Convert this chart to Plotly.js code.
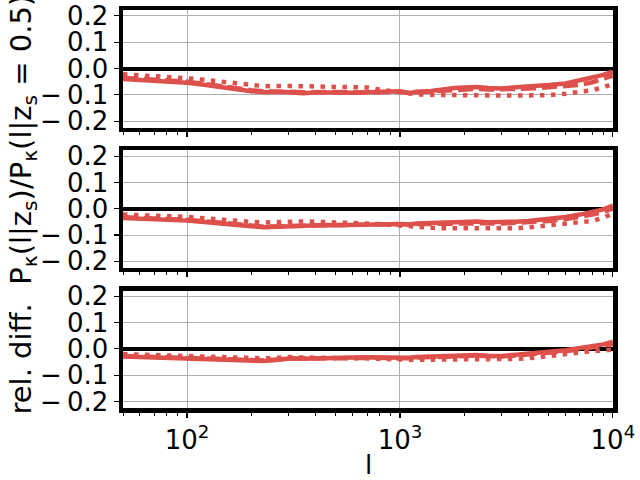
<!DOCTYPE html>
<html>
<head>
<meta charset="utf-8">
<script src="https://cdn.plot.ly/plotly-3.0.1.min.js"></script>
<style>html,body{margin:0;padding:0;background:#fff;}#chart{width:640px;height:480px;}</style>
</head>
<body>
<div id="chart"></div>
<script>
const ell = [50, 60, 70, 80, 90, 100, 120, 140, 160, 180, 200, 230, 260, 300, 350, 400, 450, 500, 600, 700, 800, 900, 1000, 1100, 1200, 1400, 1600, 1800, 2000, 2300, 2600, 3000, 3500, 4000, 4500, 5000, 6000, 7000, 8000, 9000, 10000];

const top_solid  = [-0.040,-0.043,-0.046,-0.049,-0.051,-0.054,-0.062,-0.070,-0.077,-0.082,-0.086,-0.090,-0.088,-0.090,-0.094,-0.091,-0.089,-0.091,-0.092,-0.090,-0.086,-0.088,-0.086,-0.094,-0.088,-0.085,-0.078,-0.074,-0.072,-0.070,-0.074,-0.076,-0.071,-0.069,-0.066,-0.063,-0.057,-0.045,-0.035,-0.024,-0.012];
const top_dashed = [-0.035,-0.038,-0.042,-0.045,-0.048,-0.050,-0.058,-0.066,-0.073,-0.078,-0.082,-0.087,-0.086,-0.088,-0.090,-0.089,-0.088,-0.089,-0.091,-0.089,-0.088,-0.089,-0.088,-0.092,-0.090,-0.087,-0.082,-0.080,-0.078,-0.077,-0.080,-0.080,-0.078,-0.076,-0.074,-0.072,-0.068,-0.062,-0.052,-0.040,-0.027];
const top_dotted = [-0.022,-0.025,-0.028,-0.031,-0.034,-0.037,-0.043,-0.049,-0.055,-0.059,-0.062,-0.067,-0.066,-0.068,-0.070,-0.068,-0.069,-0.070,-0.070,-0.072,-0.080,-0.085,-0.090,-0.096,-0.098,-0.100,-0.101,-0.100,-0.102,-0.103,-0.102,-0.104,-0.103,-0.102,-0.102,-0.101,-0.096,-0.090,-0.082,-0.072,-0.058];

const mid_solid  = [-0.035,-0.037,-0.039,-0.041,-0.043,-0.045,-0.050,-0.056,-0.061,-0.064,-0.066,-0.070,-0.068,-0.066,-0.067,-0.064,-0.062,-0.063,-0.061,-0.060,-0.058,-0.059,-0.058,-0.060,-0.056,-0.054,-0.052,-0.052,-0.049,-0.048,-0.051,-0.052,-0.049,-0.046,-0.042,-0.039,-0.031,-0.022,-0.012,-0.002,0.012];
const mid_dashed = [-0.032,-0.034,-0.036,-0.038,-0.040,-0.042,-0.047,-0.053,-0.058,-0.061,-0.064,-0.068,-0.067,-0.065,-0.066,-0.063,-0.062,-0.062,-0.061,-0.060,-0.059,-0.060,-0.060,-0.061,-0.059,-0.058,-0.056,-0.056,-0.054,-0.053,-0.055,-0.056,-0.054,-0.051,-0.048,-0.046,-0.039,-0.031,-0.022,-0.012,0.002];
const mid_dotted = [-0.022,-0.024,-0.025,-0.027,-0.029,-0.031,-0.036,-0.041,-0.045,-0.048,-0.050,-0.052,-0.050,-0.047,-0.048,-0.049,-0.050,-0.051,-0.053,-0.055,-0.058,-0.061,-0.064,-0.068,-0.070,-0.072,-0.074,-0.074,-0.075,-0.075,-0.076,-0.076,-0.074,-0.071,-0.067,-0.064,-0.059,-0.054,-0.046,-0.034,-0.018];

const bot_solid  = [-0.029,-0.031,-0.032,-0.034,-0.036,-0.037,-0.039,-0.040,-0.041,-0.042,-0.043,-0.046,-0.042,-0.037,-0.038,-0.036,-0.035,-0.034,-0.033,-0.032,-0.033,-0.035,-0.036,-0.034,-0.031,-0.029,-0.028,-0.026,-0.024,-0.023,-0.026,-0.027,-0.022,-0.019,-0.015,-0.011,-0.005,0.003,0.010,0.017,0.027];
const bot_dashed = [-0.027,-0.029,-0.030,-0.032,-0.034,-0.035,-0.037,-0.038,-0.039,-0.040,-0.041,-0.044,-0.041,-0.037,-0.037,-0.036,-0.035,-0.034,-0.034,-0.033,-0.034,-0.036,-0.037,-0.036,-0.033,-0.031,-0.030,-0.029,-0.027,-0.026,-0.028,-0.029,-0.025,-0.022,-0.019,-0.015,-0.009,-0.002,0.005,0.010,0.018];
const bot_dotted = [-0.020,-0.022,-0.023,-0.025,-0.027,-0.028,-0.030,-0.031,-0.032,-0.033,-0.034,-0.036,-0.034,-0.031,-0.033,-0.033,-0.034,-0.034,-0.035,-0.036,-0.038,-0.040,-0.042,-0.043,-0.042,-0.041,-0.041,-0.041,-0.041,-0.040,-0.041,-0.040,-0.038,-0.036,-0.031,-0.027,-0.021,-0.014,-0.009,-0.006,-0.003];

const yTickVals = [-0.2, -0.1, 0.0, 0.1, 0.2];
const yTickText = ['\u2212\u20090.2', '\u2212\u20090.1', '0.0', '0.1', '0.2'];
const xTickVals = [100, 1000, 10000];
const xTickText = ['10<sup>2</sup>', '10<sup>3</sup>', '10<sup>4</sup>'];
const xMinorVals = [50, 60, 70, 80, 90, 200, 300, 400, 500, 600, 700, 800, 900, 2000, 3000, 4000, 5000, 6000, 7000, 8000, 9000];

const red = 'rgb(222,80,75)';
const LW = 4.5;
const dashes = {solid: 'solid', dashed: '15px,6px', dotted: '4.5px,6.5px'};

function tr(y, style, xa, ya) {
  return {x: ell, y: y, type: 'scatter', mode: 'lines', xaxis: xa, yaxis: ya,
    line: {color: red, width: LW, dash: dashes[style]}, hoverinfo: 'skip', showlegend: false};
}

const data = [
  tr(top_solid, 'solid', 'x', 'y'), tr(top_dashed, 'dashed', 'x', 'y'), tr(top_dotted, 'dotted', 'x', 'y'),
  tr(mid_solid, 'solid', 'x2', 'y2'), tr(mid_dashed, 'dashed', 'x2', 'y2'), tr(mid_dotted, 'dotted', 'x2', 'y2'),
  tr(bot_solid, 'solid', 'x3', 'y3'), tr(bot_dashed, 'dashed', 'x3', 'y3'), tr(bot_dotted, 'dotted', 'x3', 'y3')
];

const font = {family: 'DejaVu Sans', size: 26, color: 'black'};

function xax(anchor, showLabels) {
  return {
    type: 'log', range: [Math.log10(50), 4.0005], anchor: anchor,
    tickmode: 'array', tickvals: xTickVals, ticktext: xTickText, showticklabels: showLabels,
    ticks: 'outside', ticklen: 5, tickwidth: 1.2, tickcolor: 'black',
    showline: true, linewidth: 4.5, linecolor: 'black', mirror: true,
    showgrid: true, gridcolor: '#b0b0b0', gridwidth: 1, zeroline: false,
    tickfont: font,
    minor: {tickmode: 'array', tickvals: xMinorVals, ticks: 'outside', ticklen: 3, tickwidth: 1, tickcolor: 'black', showgrid: false}
  };
}
function yax(anchor, domain) {
  return {
    domain: domain, anchor: anchor, range: [-0.225, 0.222],
    tickmode: 'array', tickvals: yTickVals, ticktext: yTickText,
    ticks: 'outside', ticklen: 5, tickwidth: 1.2, tickcolor: 'black',
    showline: true, linewidth: 4.5, linecolor: 'black', mirror: true,
    showgrid: true, gridcolor: '#b0b0b0', gridwidth: 1,
    zeroline: true, zerolinecolor: 'black', zerolinewidth: 4,
    tickfont: font
  };
}

const layout = {
  width: 640, height: 480,
  margin: {l: 123, r: 27, t: 10, b: 72},
  paper_bgcolor: 'white', plot_bgcolor: 'white',
  font: font,
  xaxis: xax('y', false), yaxis: yax('x', [0.704, 1]),
  xaxis2: xax('y2', false), yaxis2: yax('x2', [0.352, 0.647]),
  xaxis3: xax('y3', true), yaxis3: yax('x3', [0, 0.2952]),
  annotations: [
    {text: 'rel. diff.  P<sub>κ</sub>(l|z<sub>s</sub>)/P<sub>κ</sub>(l|z<sub>s</sub> = 0.5)',
     xref: 'paper', yref: 'paper', x: -0.205, y: -0.0226, xanchor: 'center', yanchor: 'bottom',
     textangle: -90, showarrow: false, font: {family: 'DejaVu Sans', size: 29, color: 'black'}},
    {text: 'l', xref: 'paper', yref: 'paper', x: 0.5, y: -0.143, xanchor: 'center', yanchor: 'middle',
     showarrow: false, font: font}
  ]
};

Plotly.newPlot('chart', data, layout, {staticPlot: true, displayModeBar: false});
</script>
</body>
</html>
